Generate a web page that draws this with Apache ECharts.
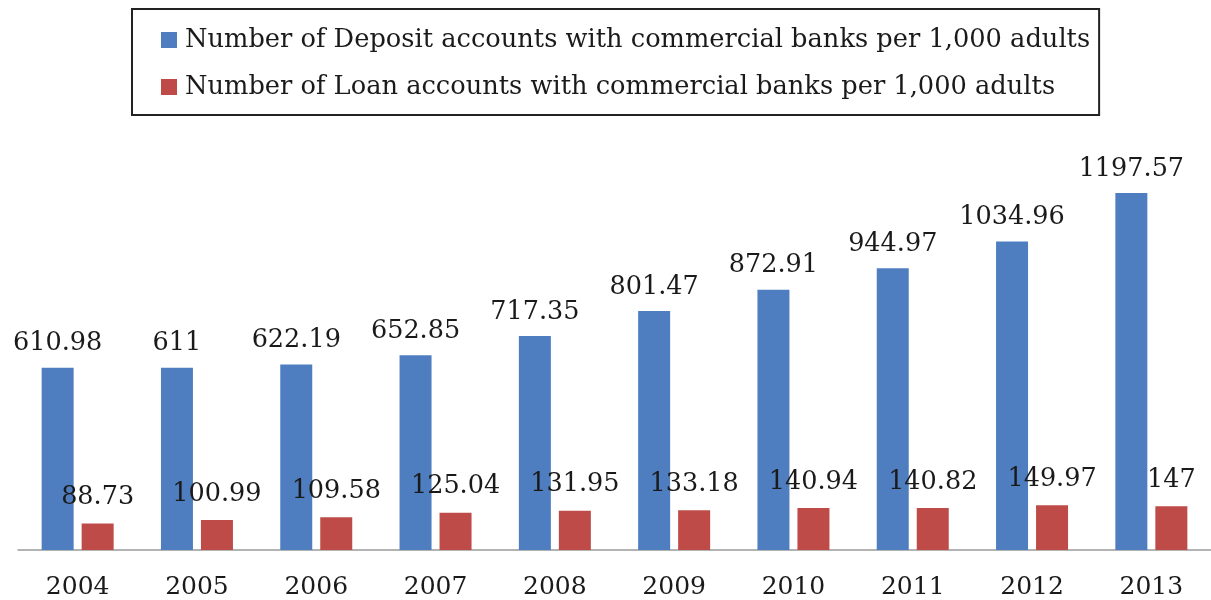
<!DOCTYPE html>
<html>
<head>
<meta charset="utf-8">
<script src="https://cdn.jsdelivr.net/npm/echarts@6/dist/echarts.min.js"></script>
<style>html,body{margin:0;padding:0;background:#fff;}#c{width:1211px;height:600px;}</style>
</head>
<body>
<div id="c"></div>
<script>
const years = ['2004','2005','2006','2007','2008','2009','2010','2011','2012','2013'];
const depositName = 'Number of Deposit accounts with commercial banks per 1,000 adults';
const loanName = 'Number of Loan accounts with commercial banks per 1,000 adults';
const depositValues = [610.98, 611, 622.19, 652.85, 717.35, 801.47, 872.91, 944.97, 1034.96, 1197.57];
const loanValues = [88.73, 100.99, 109.58, 125.04, 131.95, 133.18, 140.94, 140.82, 149.97, 147];

const FONT = 'DejaVu Serif';
const chart = echarts.init(document.getElementById('c'), null, {renderer: 'canvas'});
chart.setOption({
  animation: false,
  backgroundColor: '#fff',
  legend: {
    orient: 'vertical',
    left: 132,
    top: 9,
    padding: [16, 9, 13, 29],
    borderColor: '#222',
    borderWidth: 2,
    itemWidth: 16,
    itemHeight: 16,
    itemGap: 17,
    icon: 'rect',
    textStyle: {fontFamily: FONT, fontSize: 25.7, color: '#1a1a1a', lineHeight: 30, padding: [0, 0, 0, 3]},
    data: [depositName, loanName]
  },
  grid: {left: 18, right: -6, top: 192.2, bottom: 49, containLabel: false},
  xAxis: {
    type: 'category',
    data: years,
    axisLine: {lineStyle: {color: '#9a9a9a', width: 1.5}},
    axisTick: {show: false},
    axisLabel: {fontFamily: FONT, fontSize: 25, color: '#1a1a1a', margin: 25}
  },
  yAxis: {
    type: 'value',
    min: 0,
    max: 1200,
    show: false,
    splitLine: {show: false}
  },
  series: [
    {
      name: depositName,
      type: 'bar',
      data: depositValues,
      barWidth: 32,
      barGap: '25%',
      itemStyle: {color: '#4F7EC0'},
      label: {show: true, position: 'top', distance: 11, fontFamily: FONT, fontSize: 25.5, color: '#1a1a1a'}
    },
    {
      name: loanName,
      type: 'bar',
      data: loanValues,
      barWidth: 32,
      barGap: '25%',
      itemStyle: {color: '#BE4B48'},
      label: {show: true, position: 'top', distance: 13, fontFamily: FONT, fontSize: 25.5, color: '#1a1a1a'}
    }
  ]
});
</script>
</body>
</html>
